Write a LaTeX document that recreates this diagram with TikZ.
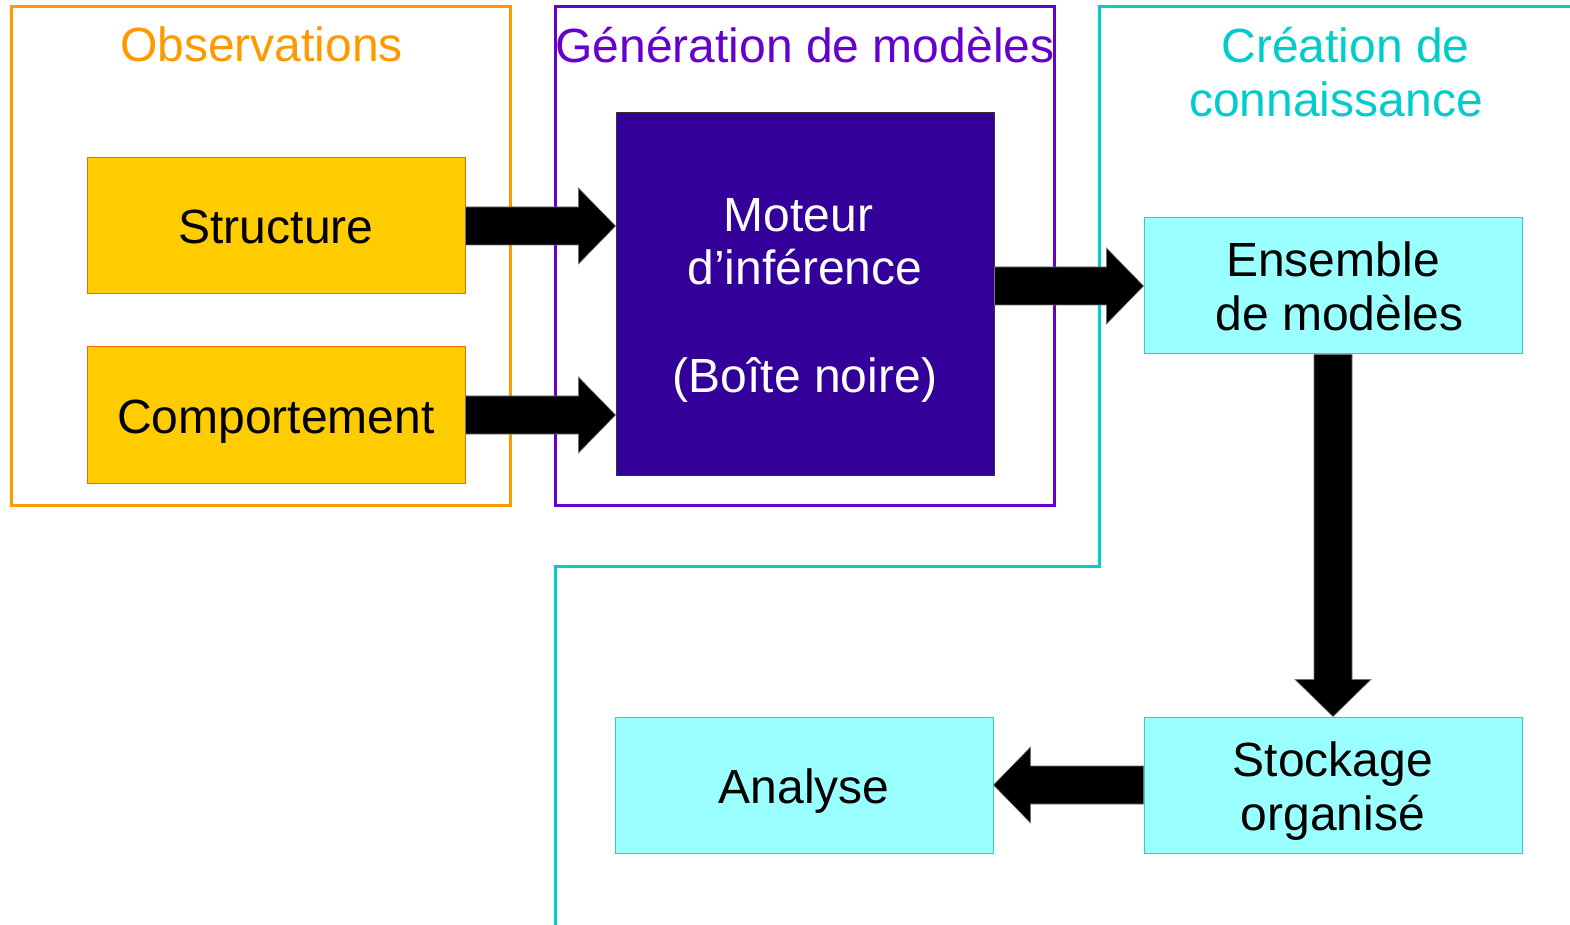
\documentclass[tikz,border=0pt]{standalone}
\usepackage{fontspec}
\setmainfont{Liberation Sans}
\usetikzlibrary{calc}
\definecolor{obsorange}{HTML}{FF9900}
\definecolor{genpurple}{HTML}{6600CC}
\definecolor{crecyan}{HTML}{00CCCC}
\definecolor{boxyellow}{HTML}{FFCC00}
\definecolor{boxyellowline}{HTML}{FF6600}
\definecolor{boxcyan}{HTML}{99FFFF}
\definecolor{boxcyanline}{HTML}{33CCCC}
\definecolor{engine}{HTML}{330099}
% line strut: every line gets the same height and depth
\newcommand{\ls}{\rule[-0.22em]{0pt}{1.19em}}
% font with a fixed baseline distance, even for lines that touch
\newcommand{\diagfont}{\fontsize{24}{27}\selectfont\lineskiplimit-1000pt\relax}
\tikzset{
  txt/.style={font={\diagfont}, align=center},
  frame/.style={line width=1.5pt},
  yellowbox/.style={txt, draw=boxyellowline, fill=boxyellow, line width=0.5pt,
    minimum width=189pt, minimum height=68pt, inner sep=0pt},
  cyanbox/.style={txt, draw=boxcyanline, fill=boxcyan, line width=0.5pt,
    minimum width=189pt, minimum height=68pt, inner sep=0pt},
  enginebox/.style={txt, draw=black!80, fill=engine, text=white, line width=0.5pt,
    minimum width=189pt, minimum height=181pt, inner sep=0pt},
  arrowbody/.style={fill=black, draw=black!55, line width=0.3pt},
}
% broad block arrow from #1 to the tip #2
\newcommand{\blockarrow}[2]{%
  \coordinate (hb) at ($(#2)!18.5pt!(#1)$);
  \filldraw[arrowbody]
    ($(#1)!9.5pt!90:(#2)$) -- ($(hb)!9.5pt!90:(#2)$) --
    ($(hb)!19pt!90:(#2)$) -- (#2) -- ($(hb)!19pt!-90:(#2)$) --
    ($(hb)!9.5pt!-90:(#2)$) -- ($(#1)!9.5pt!-90:(#2)$) -- cycle;
}
\begin{document}
\begin{tikzpicture}[x=0.5pt, y=-0.5pt]
\useasboundingbox (0,0) rectangle (1570,925);

% group frames
\draw[frame, obsorange] (11,7) rectangle (510,505);
\draw[frame, genpurple] (555,7) rectangle (1054,505);
\draw[frame, crecyan] (555,930) -- (555,566) -- (1099,566) -- (1099,7) -- (1575,7);

% group titles
\node[txt, text=obsorange] (tobs) at (261.5,44) {Observations};
\node[txt, text=genpurple] (tgen) at (805,45) {Génération de modèles};
\node[txt, text=crecyan] (tcre) at (1336,72) {\hspace*{0.4em}Création de\\connaissance};

% boxes
\node[yellowbox] (s) at (276,226) {\ls Structure};
\node[yellowbox] (c) at (276,415) {\ls Comportement};
\node[enginebox] (m) at (805,294)
  {\ls Moteur\hspace*{0.278em}\\\ls d’inférence\\\ls\\\ls (Boîte noire)};
\node[cyanbox] (e) at (1333,286) {\ls Ensemble\\\ls\hspace*{0.278em}de modèles};
\node[cyanbox] (st) at (1333,785) {\ls Stockage\\\ls organisé};
\node[cyanbox] (a) at (804,785) {\ls Analyse};

% connectors
\coordinate (t1) at (m.west |- s.east);
\coordinate (t2) at (m.west |- c.east);
\coordinate (s3) at (m.east |- e.west);
\blockarrow{s.east}{t1}
\blockarrow{c.east}{t2}
\blockarrow{s3}{e.west}
\blockarrow{e.south}{st.north}
\blockarrow{st.west}{a.east}
\end{tikzpicture}
\end{document}
